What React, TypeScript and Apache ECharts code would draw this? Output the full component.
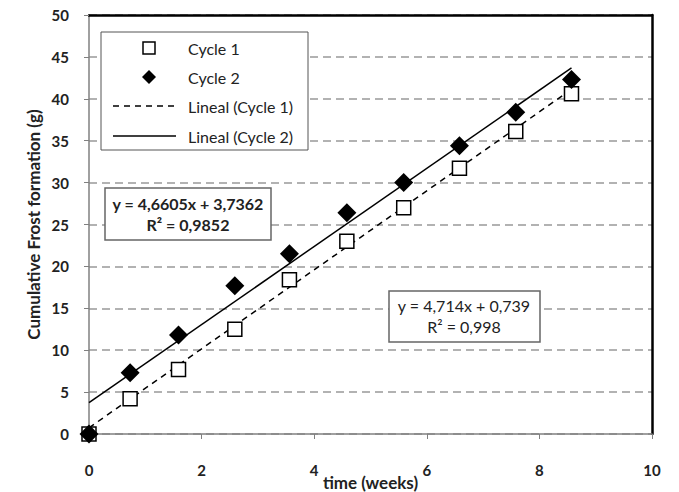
import React, { useEffect, useRef } from "react";
import * as echarts from "echarts";

const weeks = [0, 0.73, 1.59, 2.59, 3.56, 4.58, 5.59, 6.58, 7.58, 8.57];
const cycle1 = [0, 4.2, 7.7, 12.5, 18.4, 23.0, 27.0, 31.7, 36.1, 40.6];
const cycle2 = [0, 7.3, 11.8, 17.7, 21.5, 26.4, 30.0, 34.4, 38.4, 42.3];
const trendX1 = [0, 8.55];
const trendY1 = [0.739, 41.04];
const trendX2 = [0, 8.57];
const trendY2 = [3.736, 43.68];
const legendNames = ["Cycle 1", "Cycle 2", "Lineal (Cycle 1)", "Lineal (Cycle 2)"];
const eq2Lines = ["y = 4,6605x + 3,7362", "R² = 0,9852"];
const eq1Lines = ["y = 4,714x + 0,739", "R² = 0,998"];

const FONT = "Lato, 'Open Sans', sans-serif";

export default function App() {
  const ref = useRef<HTMLDivElement>(null);
  useEffect(() => {
    if (!ref.current) return;
    const chart = echarts.init(ref.current, null, { renderer: "svg" });
    const zip = (xs: number[], ys: number[]) => xs.map((x, i) => [x, ys[i]]);
    const legendTop = 32;
    const rowY = [48, 77, 106, 136];
    chart.setOption({
      animation: false,
      backgroundColor: "#fff",
      textStyle: { fontFamily: FONT },
      grid: { left: 89, right: 27, top: 15, bottom: 58, containLabel: false, outerBoundsMode: "none" },
      xAxis: [
        {
          type: "value",
          min: 0,
          max: 10,
          interval: 2,
          name: "time (weeks)",
          nameLocation: "middle",
          nameGap: 40,
          nameMoveOverlap: false,
          nameTextStyle: { fontWeight: "bold", fontSize: 17, color: "#222", fontFamily: FONT },
          axisLine: { lineStyle: { color: "#808080", width: 1.5 } },
          axisTick: { show: true, length: 5, lineStyle: { color: "#808080" } },
          axisLabel: { fontWeight: "bold", fontSize: 15, color: "#222", margin: 28, fontFamily: FONT },
          splitLine: { show: false },
        },
        {
          type: "value",
          position: "top",
          min: 0,
          max: 10,
          interval: 2,
          axisLine: { show: true, onZero: false, lineStyle: { color: "#000", width: 2.5 } },
          axisTick: { show: false },
          axisLabel: { show: false },
          splitLine: { show: false },
        },
      ],
      yAxis: [
        {
          type: "value",
          min: 0,
          max: 50,
          interval: 5,
          name: "Cumulative Frost formation (g)",
          nameLocation: "middle",
          nameGap: 47,
          nameMoveOverlap: false,
          nameTextStyle: { fontWeight: "bold", fontSize: 17, color: "#222", fontFamily: FONT },
          axisLine: { show: true, lineStyle: { color: "#808080", width: 1.5 } },
          axisTick: { show: true, length: 5, lineStyle: { color: "#808080" } },
          axisLabel: { fontWeight: "bold", fontSize: 15, color: "#222", margin: 20, fontFamily: FONT },
          splitLine: { show: true, lineStyle: { color: "#999", width: 1.5, type: [8, 5] } },
        },
        {
          type: "value",
          position: "right",
          min: 0,
          max: 50,
          interval: 5,
          axisLine: { show: true, onZero: false, lineStyle: { color: "#000", width: 2.5 } },
          axisTick: { show: false },
          axisLabel: { show: false },
          splitLine: { show: false },
        },
      ],
      series: [
        {
          name: legendNames[2],
          type: "line",
          data: zip(trendX1, trendY1),
          showSymbol: false,
          symbol: "none",
          lineStyle: { color: "#000", width: 1.5, type: [6, 5] },
          z: 2,
        },
        {
          name: legendNames[3],
          type: "line",
          data: zip(trendX2, trendY2),
          showSymbol: false,
          symbol: "none",
          lineStyle: { color: "#000", width: 1.5 },
          z: 2,
        },
        {
          name: legendNames[0],
          type: "scatter",
          data: zip(weeks, cycle1),
          symbol: "rect",
          symbolSize: 14,
          itemStyle: { color: "#fff", borderColor: "#000", borderWidth: 1.5, opacity: 1 },
          z: 3,
        },
        {
          name: legendNames[1],
          type: "scatter",
          data: zip(weeks, cycle2),
          symbol: "diamond",
          symbolSize: 19,
          itemStyle: { color: "#000", opacity: 1 },
          z: 4,
        },
      ],
      graphic: [
        {
          type: "rect",
          shape: { x: 101, y: legendTop, width: 207, height: 118 },
          style: { fill: "#fff", stroke: "#555", lineWidth: 1 },
          z: 10,
        },
        {
          type: "rect",
          shape: { x: 143, y: rowY[0] - 6, width: 12, height: 12 },
          style: { fill: "#fff", stroke: "#000", lineWidth: 1.5 },
          z: 11,
        },
        {
          type: "polygon",
          shape: { points: [[149, rowY[1] - 7], [156, rowY[1]], [149, rowY[1] + 7], [142, rowY[1]]] },
          style: { fill: "#000" },
          z: 11,
        },
        {
          type: "line",
          shape: { x1: 113, y1: rowY[2], x2: 176, y2: rowY[2] },
          style: { stroke: "#000", lineWidth: 1.5, lineDash: [6, 5] },
          z: 11,
        },
        {
          type: "line",
          shape: { x1: 113, y1: rowY[3], x2: 176, y2: rowY[3] },
          style: { stroke: "#000", lineWidth: 1.5 },
          z: 11,
        },
        ...legendNames.map((n, i) => ({
          type: "text",
          x: 188,
          y: rowY[i],
          style: { text: n, font: `16px ${FONT}`, fill: "#222", verticalAlign: "middle", align: "left" },
          z: 11,
        })),
        {
          type: "rect",
          shape: { x: 105, y: 188, width: 166, height: 52 },
          style: { fill: "#fff", stroke: "#666", lineWidth: 1.5 },
          z: 10,
        },
        {
          type: "text",
          x: 188,
          y: 214,
          style: {
            text: eq2Lines.join("\n"),
            font: `bold 16px ${FONT}`,
            fill: "#222",
            align: "center",
            verticalAlign: "middle",
            lineHeight: 21,
          },
          z: 11,
        },
        {
          type: "rect",
          shape: { x: 389, y: 291, width: 151, height: 51 },
          style: { fill: "#fff", stroke: "#666", lineWidth: 1.5 },
          z: 10,
        },
        {
          type: "text",
          x: 464,
          y: 316,
          style: {
            text: eq1Lines.join("\n"),
            font: `16px ${FONT}`,
            fill: "#222",
            align: "center",
            verticalAlign: "middle",
            lineHeight: 21,
          },
          z: 11,
        },
      ],
    });
    return () => chart.dispose();
  }, []);
  return <div ref={ref} style={{ position: "fixed", left: 0, top: 0, width: 679, height: 492 }} />;
}
